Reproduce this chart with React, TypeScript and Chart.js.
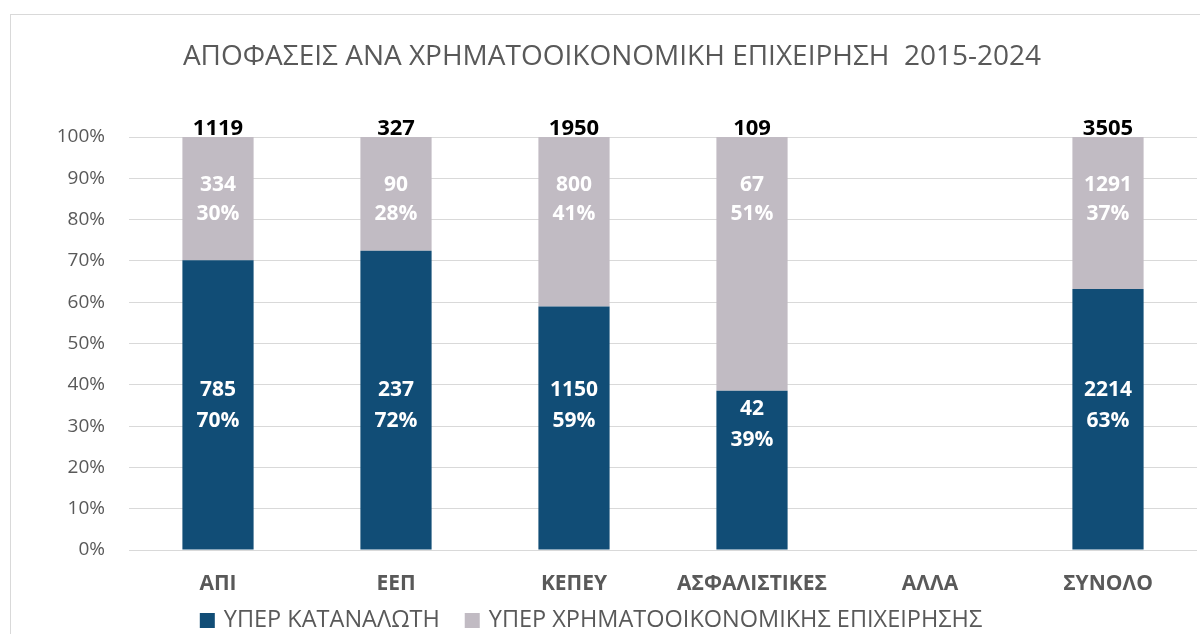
import React, { useEffect, useRef } from 'react';
import { Chart, registerables } from 'chart.js';
Chart.register(...registerables);

const FONT = '"Open Sans", sans-serif';
const TITLE = 'ΑΠΟΦΑΣΕΙΣ ΑΝΑ ΧΡΗΜΑΤΟΟΙΚΟΝΟΜΙΚΗ ΕΠΙΧΕΙΡΗΣΗ  2015-2024';

const categories = ['ΑΠΙ', 'ΕΕΠ', 'ΚΕΠΕΥ', 'ΑΣΦΑΛΙΣΤΙΚΕΣ', 'ΑΛΛΑ', 'ΣΥΝΟΛΟ'];
const consumerValues = [785, 237, 1150, 42, 0, 2214];
const businessValues = [334, 90, 800, 67, 0, 1291];
const consumerPctLabels = [70, 72, 59, 39, null, 63];
const businessPctLabels = [30, 28, 41, 51, null, 37];
const seriesNames = ['ΥΠΕΡ ΚΑΤΑΝΑΛΩΤΗ', 'ΥΠΕΡ ΧΡΗΜΑΤΟΟΙΚΟΝΟΜΙΚΗΣ ΕΠΙΧΕΙΡΗΣΗΣ'];
const seriesColors = ['#114d76', '#c1bbc3'];

export default function App() {
  const ref = useRef<HTMLCanvasElement>(null);
  useEffect(() => {
    const totals = categories.map((_, i) => consumerValues[i] + businessValues[i]);
    const pct = (v: number, t: number) => (t ? (v / t) * 100 : 0);

    const plugin = {
      id: 'custom',
      afterDatasetsDraw(chart: any) {
        const ctx = chart.ctx;
        const xs = chart.scales.x;
        const ys = chart.scales.y;
        ctx.save();
        ctx.textAlign = 'center';
        ctx.textBaseline = 'middle';
        categories.forEach((_, i) => {
          const t = totals[i];
          if (!t) return;
          const cx = xs.getPixelForValue(i);
          const cp = pct(consumerValues[i], t);
          const darkPos = Math.min(35, cp - 8);
          const grayPos = 85;
          ctx.fillStyle = '#ffffff';
          ctx.font = `bold 21px ${FONT}`;
          let y = ys.getPixelForValue(darkPos);
          ctx.fillText(String(consumerValues[i]), cx, y - 15);
          ctx.fillText(consumerPctLabels[i] + '%', cx, y + 16);
          y = ys.getPixelForValue(grayPos);
          ctx.fillText(String(businessValues[i]), cx, y - 14);
          ctx.fillText(businessPctLabels[i] + '%', cx, y + 15);
          // totals
          ctx.fillStyle = '#000000';
          ctx.font = `bold 22px ${FONT}`;
          ctx.textBaseline = 'alphabetic';
          ctx.fillText(String(t), cx, ys.getPixelForValue(100) - 2);
          ctx.textBaseline = 'middle';
        });
        // title
        ctx.fillStyle = '#595959';
        ctx.font = `28px ${FONT}`;
        ctx.textBaseline = 'alphabetic';
        ctx.fillText(TITLE, 612, 65);
        // legend
        ctx.font = `23.5px ${FONT}`;
        const box = 15, gapBox = 9, gapItem = 25;
        const widths = seriesNames.map((n) => box + gapBox + ctx.measureText(n).width);
        const total = widths[0] + widths[1] + gapItem;
        let lx = 591 - total / 2;
        ctx.textAlign = 'left';
        ctx.textBaseline = 'middle';
        seriesNames.forEach((n, k) => {
          ctx.fillStyle = seriesColors[k];
          ctx.fillRect(lx, 613, box, box);
          ctx.fillStyle = '#595959';
          ctx.fillText(n, lx + box + gapBox, 620);
          lx += widths[k] + gapItem;
        });
        ctx.restore();
      },
    };

    const chart = new Chart(ref.current!, {
      type: 'bar',
      data: {
        labels: categories,
        datasets: [
          {
            label: seriesNames[0],
            data: consumerValues.map((v, i) => pct(v, totals[i])),
            backgroundColor: seriesColors[0],
            barPercentage: 0.4,
            categoryPercentage: 1,
          },
          {
            label: seriesNames[1],
            data: businessValues.map((v, i) => pct(v, totals[i])),
            backgroundColor: seriesColors[1],
            barPercentage: 0.4,
            categoryPercentage: 1,
          },
        ],
      },
      options: {
        animation: false,
        responsive: false,
        maintainAspectRatio: false,
        layout: { padding: { left: 0, top: 137, right: 3, bottom: 0 } },
        plugins: {
          legend: { display: false },
          title: { display: false },
          tooltip: { enabled: false },
        },
        scales: {
          x: {
            stacked: true,
            grid: { display: false, drawTicks: false },
            border: { display: false },
            ticks: {
              padding: 21,
              color: '#595959',
              font: { family: FONT, size: 21, weight: 'bold' },
            },
            afterFit: (s: any) => {
              s.height = 84;
            },
          },
          y: {
            stacked: true,
            min: 0,
            max: 100,
            grid: { color: '#d9d9d9', lineWidth: 1, drawTicks: false },
            border: { display: false },
            ticks: {
              stepSize: 10,
              padding: 24,
              color: '#595959',
              font: { family: FONT, size: 19 },
              callback: (v: any) => v + '%',
            },
            afterFit: (s: any) => {
              s.width = 129;
            },
          },
        },
      },
      plugins: [plugin],
    });
    return () => chart.destroy();
  }, []);

  return (
    <div style={{ position: 'fixed', left: 0, top: 0, width: 1200, height: 634, overflow: 'hidden', background: '#fff' }}>
      <div
        style={{
          position: 'absolute',
          left: 10,
          top: 14,
          width: 1300,
          height: 800,
          border: '1px solid #d9d9d9',
        }}
      />
      <canvas ref={ref} width={1200} height={634} style={{ position: 'absolute', left: 0, top: 0 }} />
    </div>
  );
}
